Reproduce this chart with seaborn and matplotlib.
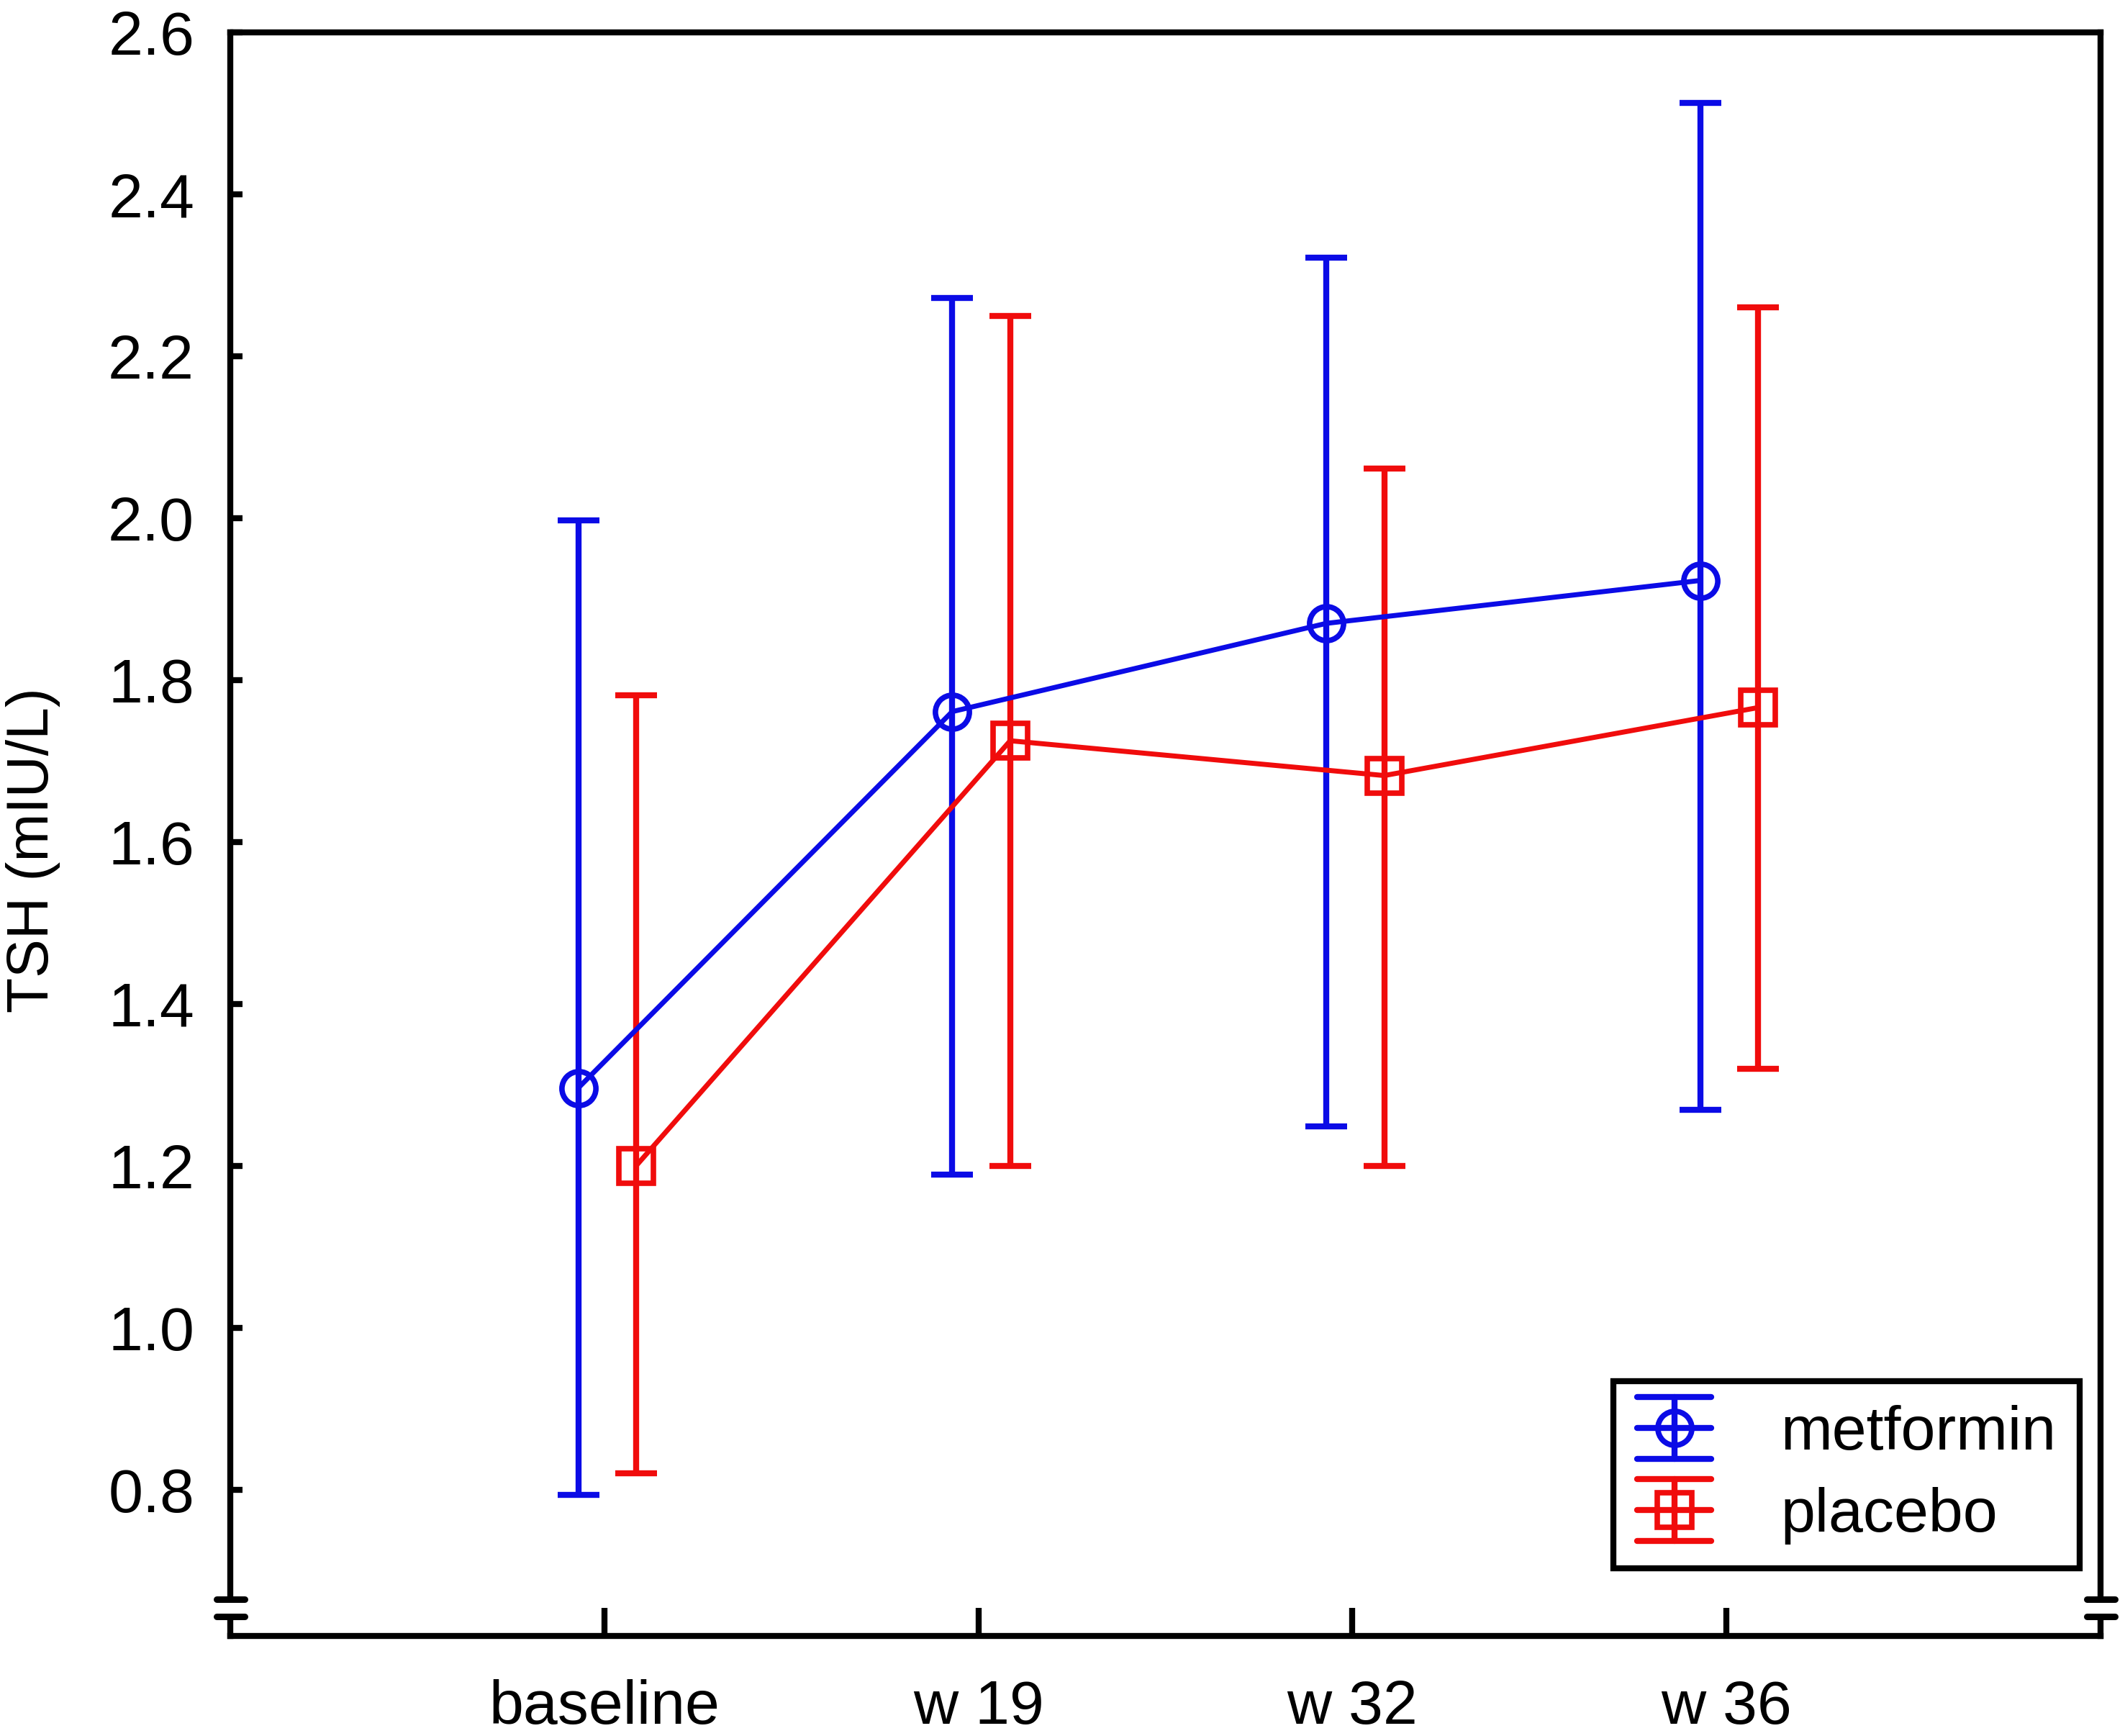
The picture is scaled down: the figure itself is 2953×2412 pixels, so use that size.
import numpy as np
import pandas as pd
import matplotlib
matplotlib.use("Agg")
import matplotlib.pyplot as plt
import seaborn as sns
from matplotlib.legend_handler import HandlerBase
from matplotlib.lines import Line2D

# data
timepoints = ["baseline", "w 19", "w 32", "w 36"]
groups = ["metformin", "placebo"]
metformin_mean = [1.296, 1.761, 1.870, 1.923]
metformin_low = [0.793, 1.189, 1.249, 1.269]
metformin_high = [1.997, 2.272, 2.322, 2.513]
placebo_mean = [1.200, 1.725, 1.682, 1.766]
placebo_low = [0.820, 1.200, 1.200, 1.320]
placebo_high = [1.781, 2.250, 2.061, 2.260]

colors = {"metformin": "#0b0be6", "placebo": "#f00c0c"}
markers = {"metformin": "o", "placebo": "s"}
offsets = {"metformin": -0.07, "placebo": 0.085}

rows = []
for g, m, lo, hi in [("metformin", metformin_mean, metformin_low, metformin_high),
                     ("placebo", placebo_mean, placebo_low, placebo_high)]:
    for i, t in enumerate(timepoints):
        rows.append({"group": g, "time": t, "pos": i + offsets[g],
                     "mean": m[i], "low": lo[i], "high": hi[i]})
df = pd.DataFrame(rows)

sns.set_style("ticks")
plt.rcParams["font.family"] = ["Liberation Sans", "DejaVu Sans"]
plt.rcParams["text.color"] = "black"
plt.rcParams["axes.labelcolor"] = "black"
plt.rcParams["xtick.color"] = "black"
plt.rcParams["ytick.color"] = "black"

LW = 5
ELW = 6
MS = 34
MEW = 5.5
SPW = 6

fig = plt.figure(figsize=(29.53, 24.12), dpi=100)
ax = fig.add_axes([0.1084, 0.0576, 0.8801, 0.9237])

sns.lineplot(data=df, x="pos", y="mean", hue="group", style="group",
             palette=colors, markers=markers, dashes=False, ax=ax,
             linewidth=LW, markersize=MS, markerfacecolor="none",
             markeredgewidth=MEW, legend=False, zorder=3)
# hollow markers with the line colour as edge
for line in ax.get_lines():
    line.set_markerfacecolor("none")
    line.set_markeredgecolor(line.get_color())

for g in groups:
    sub = df[df["group"] == g]
    ax.errorbar(sub["pos"], sub["mean"],
                yerr=[sub["mean"] - sub["low"], sub["high"] - sub["mean"]],
                fmt="none", ecolor=colors[g], elinewidth=ELW,
                capsize=21, capthick=ELW, zorder=2)

ax.set_xlim(-1, 4)
ax.set_ylim(0.619, 2.6)
ax.set_xticks(range(len(timepoints)))
ax.set_xticklabels(timepoints)
yt = np.arange(0.8, 2.61, 0.2)
ax.set_yticks(yt)
ax.set_yticklabels([f"{v:.1f}" for v in yt])
ax.set_xlabel("")
ax.set_ylabel("TSH (mIU/L)", fontsize=58)
ax.yaxis.set_label_coords(-0.091, 0.49)

for s in ax.spines.values():
    s.set_linewidth(SPW)
    s.set_color("black")
ax.tick_params(axis="both", direction="in", labelsize=62, width=SPW)
ax.tick_params(axis="x", length=28, pad=43)
ax.tick_params(axis="y", length=12, pad=36)

# axis break marks on both vertical spines
for xs in (0.0, 1.0):
    ax.plot([xs, xs], [0.0125, 0.0226], transform=ax.transAxes, color="white",
            lw=10, clip_on=False, zorder=5, solid_capstyle="butt")
    for yy in (0.0122, 0.0229):
        ax.plot([xs - 0.0075, xs + 0.0075], [yy, yy], transform=ax.transAxes,
                color="black", lw=6.5, clip_on=False, zorder=6,
                solid_capstyle="round")


class ErrBarHandler(HandlerBase):
    def create_artists(self, legend, orig_handle, xdescent, ydescent,
                       width, height, fontsize, trans):
        c = orig_handle.get_color()
        yc = height / 2 - ydescent
        dy = 0.5 * fontsize
        x0, x1 = -xdescent, width - xdescent
        xm = (x0 + x1) / 2
        arts = []
        for yy in (yc - dy, yc, yc + dy):
            arts.append(Line2D([x0, x1], [yy, yy], color=c, lw=ELW,
                               solid_capstyle="round"))
        arts.append(Line2D([xm, xm], [yc - dy, yc + dy], color=c, lw=ELW))
        arts.append(Line2D([xm], [yc], marker=orig_handle.get_marker(),
                           markersize=MS, markerfacecolor="none",
                           markeredgecolor=c, markeredgewidth=MEW,
                           linestyle="none"))
        for a in arts:
            a.set_transform(trans)
        return arts


handles = [Line2D([], [], color=colors[g], marker=markers[g]) for g in groups]
leg = ax.legend(handles, groups, loc="lower right",
                bbox_to_anchor=(0.989, 0.0422), borderaxespad=0,
                fontsize=62, frameon=True, fancybox=False, edgecolor="black",
                handlelength=1.2, handletextpad=1.12, labelspacing=0.4,
                borderpad=0.38, handler_map={Line2D: ErrBarHandler()})
leg.get_frame().set_linewidth(SPW)
leg.get_frame().set_alpha(1)

fig.savefig("out.png", dpi=100, facecolor="white")
